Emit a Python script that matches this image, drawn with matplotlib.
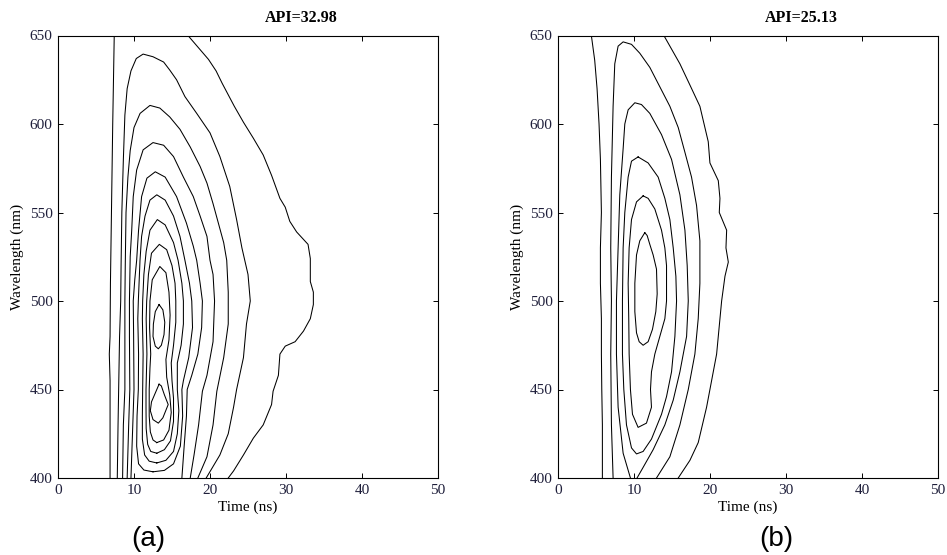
import matplotlib.pyplot as plt

# Time-resolved fluorescence contours, time (ns) vs wavelength (nm).
# Every contour is stored as a list of (time, wavelength) vertices.

# ---- panel (a), API=32.98 ----
a_c1_left = [(7.4, 650), (7.3, 625), (7.2, 600), (7.1, 570), (7.0, 540), (6.9, 510),
             (6.85, 480), (6.75, 470), (6.85, 455), (6.85, 430), (6.85, 400)]
a_c1_right = [(17.1, 650), (18.7, 642), (19.8, 636.5), (20.8, 630), (21.6, 623), (22.4, 616.5),
              (23.2, 610), (24.4, 601), (25.7, 592), (27.0, 582.5), (28.1, 571), (29.2, 558),
              (29.9, 553), (30.5, 545), (31.4, 539), (32.9, 532), (33.2, 524), (33.2, 511),
              (33.6, 505), (33.6, 498), (33.2, 490), (32.3, 483), (31.2, 477), (29.9, 474.5),
              (29.2, 470), (29.0, 458), (28.3, 449), (28.1, 441.5), (27.0, 430), (25.7, 422.5),
              (24.4, 413), (23.1, 404), (22.4, 400)]
a_c2 = [(7.8, 400), (7.9, 430), (8.0, 455), (8.1, 480), (8.25, 500), (8.3, 520), (8.4, 550),
        (8.6, 580), (8.8, 605), (9.1, 620), (9.6, 630), (10.3, 637), (11.2, 639.5), (12.5, 638),
        (13.9, 635), (14.7, 630.5), (15.6, 625), (16.7, 615.5), (18.25, 606), (20.0, 595),
        (21.3, 581.6), (22.6, 564.7), (23.5, 546), (24.2, 530), (25.0, 515), (25.3, 500),
        (24.8, 487), (24.4, 468), (23.5, 450), (23.1, 440), (22.4, 425), (21.3, 413), (19.5, 400)]
a_c3 = [(8.5, 400), (8.6, 430), (8.8, 450), (8.8, 480), (8.8, 500), (8.85, 520), (8.95, 550),
        (9.2, 570), (9.5, 585), (10.0, 598), (10.8, 606), (12.1, 610.5), (13.4, 609), (14.7, 604),
        (16.05, 597), (17.4, 587), (18.7, 576), (19.6, 566.6), (20.4, 555), (21.1, 544),
        (21.8, 533), (22.2, 523), (22.4, 505), (22.4, 487), (21.8, 468), (20.9, 449),
        (20.4, 430), (19.6, 412), (18.4, 400)]
a_c4 = [(9.1, 400), (9.3, 430), (9.45, 450), (9.4, 480), (9.4, 500), (9.5, 525), (9.7, 540),
        (9.9, 559), (10.35, 574), (11.2, 585.4), (12.5, 589.5), (13.9, 588), (15.2, 581.6),
        (16.5, 570), (17.8, 559), (18.7, 548), (19.6, 536.5), (20.0, 523), (20.4, 515),
        (20.6, 500), (20.4, 477), (19.6, 458), (19.0, 449), (18.5, 430), (17.9, 413), (17.4, 400)]
a_c5 = [(9.6, 400), (9.8, 425), (10.0, 450), (9.95, 480), (9.9, 500), (10.1, 512), (10.35, 523),
        (10.6, 540), (11.0, 559), (11.7, 569.4), (12.8, 573), (14.1, 570), (15.6, 559),
        (16.9, 544), (17.8, 531), (18.25, 523), (18.7, 510), (19.0, 500), (18.9, 485),
        (18.4, 470), (17.6, 458), (17.0, 450), (16.9, 435), (16.6, 418), (16.3, 400)]
a_c6 = [(12.5, 403.5), (11.3, 404.5), (10.6, 408), (10.35, 418), (10.4, 435), (10.57, 450),
        (10.6, 470), (10.5, 490), (10.57, 500), (10.79, 523), (11.0, 536.5), (11.45, 548),
        (12.1, 557), (13.0, 560), (14.1, 557), (15.2, 548), (16.05, 536.5), (16.7, 523),
        (17.3, 510), (17.6, 500), (17.7, 485), (17.2, 468), (16.5, 455), (16.3, 450),
        (16.4, 435), (16.1, 418), (15.2, 408), (14.0, 404.3), (12.5, 403.5)]
a_c7 = [(13.0, 408.5), (12.0, 409.5), (11.4, 413), (11.1, 422), (11.1, 435), (11.14, 450),
        (11.2, 470), (11.1, 490), (11.14, 500), (11.3, 515), (11.6, 528), (12.1, 540),
        (13.07, 546), (14.1, 543), (15.2, 533), (15.8, 523), (16.3, 510), (16.5, 500),
        (16.5, 487), (16.2, 475), (15.7, 465), (15.7, 450), (15.9, 438), (15.7, 425),
        (15.2, 415), (14.2, 410), (13.0, 408.5)]
a_c8 = [(13.0, 414), (12.2, 415), (11.8, 419), (11.6, 428), (11.58, 440), (11.58, 450),
        (11.7, 470), (11.6, 490), (11.67, 500), (11.9, 515), (12.3, 527), (13.33, 532),
        (14.3, 529), (15.0, 520), (15.4, 510), (15.5, 500), (15.5, 488), (15.2, 475),
        (14.9, 465), (15.0, 455), (15.2, 445), (15.2, 432), (14.8, 421), (14.0, 416), (13.0, 414)]
a_c9 = [(13.0, 420), (12.5, 421.5), (12.15, 426), (12.0, 435), (12.0, 450), (12.1, 462),
        (12.2, 470), (12.05, 485), (12.1, 500), (12.4, 512), (13.4, 519.5), (14.2, 516),
        (14.6, 505), (14.75, 492), (14.6, 478), (14.2, 467), (14.3, 457), (14.7, 447),
        (14.9, 437), (14.6, 427), (13.9, 421.5), (13.0, 420)]
a_peak_upper = [(13.3, 498), (12.8, 494), (12.55, 487), (12.5, 480), (12.8, 474.5), (13.2, 473),
                (13.6, 475), (13.95, 481), (14.05, 488), (13.8, 495), (13.3, 498)]
a_peak_lower = [(13.3, 453), (12.8, 448), (12.3, 443), (12.15, 438), (12.5, 433), (13.2, 431),
                (13.8, 434), (14.5, 441.5), (14.0, 447), (13.6, 452), (13.3, 453)]

# ---- panel (b), API=25.13 ----
b_c1_left = [(4.39, 650), (4.83, 636), (5.14, 620), (5.40, 600), (5.58, 580), (5.71, 550),
             (5.58, 530), (5.58, 510), (5.71, 490), (5.71, 470), (5.76, 450), (5.84, 430),
             (5.84, 400)]
b_c1_right = [(13.93, 650), (16.04, 634), (17.36, 622), (18.67, 610), (19.77, 590),
              (19.99, 578), (21.09, 568), (21.31, 558), (21.22, 550), (22.19, 540),
              (22.10, 530), (22.41, 522), (21.97, 514), (21.53, 500), (21.31, 490),
              (20.87, 470), (19.99, 450), (19.55, 440), (18.45, 420), (17.36, 410), (15.82, 400)]
b_c2 = [(7.25, 400), (7.03, 430), (6.94, 470), (7.03, 500), (6.94, 530), (7.03, 570),
        (7.25, 610), (7.47, 634), (7.91, 644), (8.57, 646.4), (9.67, 645), (10.76, 640),
        (12.08, 632), (13.40, 621), (14.72, 610), (15.82, 598), (16.70, 584), (17.57, 570),
        (18.23, 554), (18.67, 534), (18.67, 510), (18.45, 490), (18.01, 470), (17.14, 450),
        (16.04, 430), (14.72, 412), (12.96, 400)]
b_c3 = [(9.53, 400), (8.57, 414), (7.91, 440), (7.69, 470), (7.69, 500), (7.91, 530),
        (8.13, 560), (8.57, 586), (8.79, 600), (9.23, 608), (10.11, 612), (10.98, 611),
        (12.08, 606), (13.62, 594), (14.94, 580), (16.04, 560), (16.70, 540), (17.0, 520),
        (17.14, 500), (16.92, 480), (16.04, 460), (15.16, 444), (14.06, 430), (12.52, 416),
        (11.2, 406), (10.4, 400)]
b_c4 = [(10.54, 581.4), (9.67, 579), (9.23, 570), (8.79, 550), (8.57, 530), (8.48, 500),
        (8.48, 470), (8.66, 450), (9.01, 430), (9.67, 417), (10.33, 413.6), (11.2, 415),
        (12.3, 422), (13.62, 436), (14.28, 446), (14.94, 460), (15.38, 480), (15.6, 500),
        (15.51, 514), (15.16, 530), (14.72, 546), (14.06, 558), (13.18, 570), (11.86, 578),
        (10.54, 581.4)]
b_c5 = [(11.2, 559.4), (10.33, 556), (9.67, 546), (9.36, 530), (9.23, 510), (9.31, 490),
        (9.36, 470), (9.53, 450), (9.8, 436), (10.54, 428.6), (11.64, 431), (12.3, 440),
        (12.17, 450), (12.3, 460), (12.74, 470), (13.4, 480), (14.06, 490), (14.28, 500),
        (14.28, 520), (14.06, 530), (13.62, 540), (12.74, 552), (11.86, 558), (11.2, 559.4)]
b_c6 = [(11.42, 538.6), (10.76, 534), (10.33, 526), (10.11, 510), (10.11, 494), (10.33, 482),
        (10.68, 477), (11.2, 475), (11.86, 477), (12.43, 484), (12.87, 494), (13.05, 504),
        (12.96, 518), (12.52, 526), (12.08, 532), (11.73, 537), (11.42, 538.6)]

panels = [
    ("API=32.98", "(a)", [a_c1_left, a_c1_right, a_c2, a_c3, a_c4, a_c5, a_c6, a_c7,
                          a_c8, a_c9, a_peak_upper, a_peak_lower]),
    ("API=25.13", "(b)", [b_c1_left, b_c1_right, b_c2, b_c3, b_c4, b_c5, b_c6]),
]

serif = "Liberation Serif"
tick_color = "#1e1e3a"

W, H = 947, 555
fig = plt.figure(figsize=(W / 100, H / 100), dpi=100)
lefts = [58, 558]
tag_x = [148, 776]

for left, tx, (title, tag, contours) in zip(lefts, tag_x, panels):
    ax = fig.add_axes([left / W, 1 - 478 / H, 380 / W, 442.5 / H])
    for line in contours:
        t = [p[0] for p in line]
        w = [p[1] for p in line]
        ax.plot(t, w, color="black", lw=0.75)

    ax.set_xlim(0, 50)
    ax.set_ylim(400, 650)
    ax.set_xticks(range(0, 51, 10))
    ax.set_yticks(range(400, 651, 50))
    ax.tick_params(direction="in", top=True, right=True, length=3.5, width=0.7,
                   pad=4, labelsize=11, labelcolor=tick_color)
    for lbl in ax.get_xticklabels() + ax.get_yticklabels():
        lbl.set_fontfamily(serif)
    for sp in ax.spines.values():
        sp.set_linewidth(0.8)

    ax.set_xlabel("Time (ns)", fontsize=11, family=serif)
    ax.xaxis.set_label_coords(0.5, -0.065)
    ax.xaxis.label.set_va("center")
    ax.set_ylabel("Wavelength (nm)", fontsize=11, family=serif)
    ax.yaxis.set_label_coords(-0.108, 0.5)
    ax.yaxis.label.set_va("center")

    ax.text(0.64, 1.04, title, transform=ax.transAxes, ha="center", va="center",
            fontsize=11.5, fontweight="bold", family=serif)
    fig.text(tx / W, 1 - 539 / H, tag, ha="center", va="center",
             fontsize=20, family="Liberation Sans")

fig.savefig("out.png", dpi=100)
